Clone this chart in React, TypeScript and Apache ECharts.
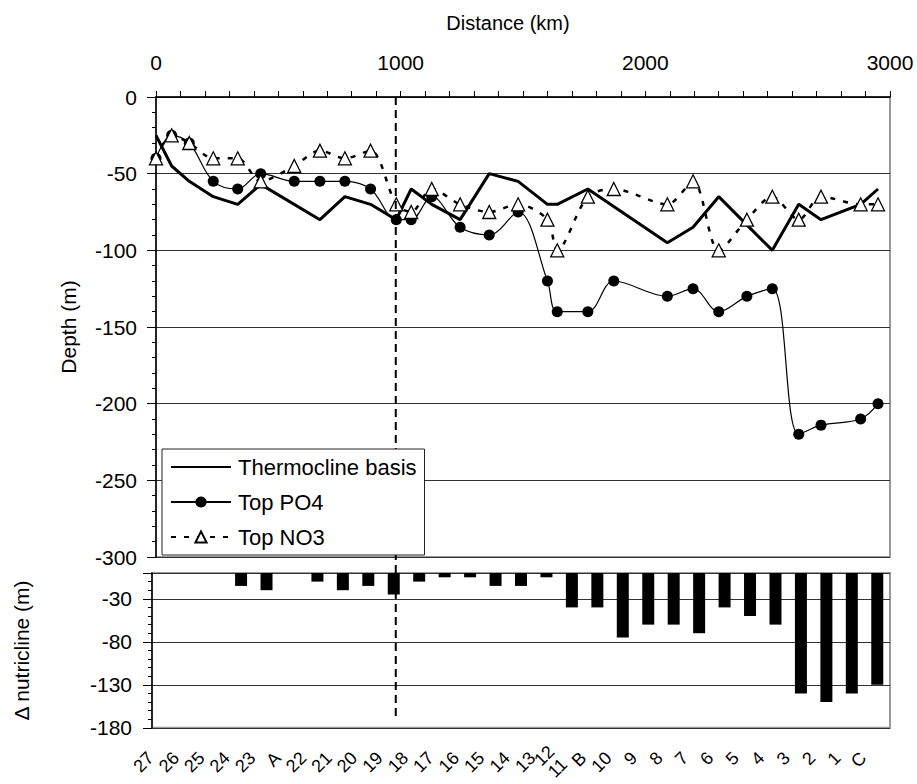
import React, { useEffect, useRef } from 'react';
import * as echarts from 'echarts';

const FONT = '"Liberation Sans", Arial, Helvetica, sans-serif';

// Station distances (km) along the section
const stationDistance = [0, 64, 136, 234, 334, 428, 565, 670, 772, 877, 982, 1043, 1127, 1243, 1362, 1480, 1600, 1640, 1765, 1871, 2090, 2195, 2300, 2415, 2519, 2627, 2718, 2880, 2951];
// Top of PO4 nutricline (m)
const topPO4 = [-40, -25, -30, -55, -60, -50, -55, -55, -55, -60, -80, -80, -65, -85, -90, -75, -120, -140, -140, -120, -130, -125, -140, -130, -125, -220, -214, -210, -200];
// Top of NO3 nutricline (m)
const topNO3 = [-40, -25, -30, -40, -40, -55, -45, -35, -40, -35, -70, -75, -60, -70, -75, -70, -80, -100, -65, -60, -70, -55, -100, -80, -65, -80, -65, -70, -70];
// Thermocline basis
const thermoDistance = [0, 64, 136, 234, 334, 428, 670, 772, 877, 982, 1043, 1127, 1243, 1362, 1480, 1600, 1640, 1765, 2090, 2195, 2300, 2519, 2627, 2718, 2880, 2951];
const thermoDepth = [-25, -45, -55, -65, -70, -57, -80, -65, -70, -80, -60, -70, -80, -50, -55, -70, -70, -60, -95, -85, -65, -100, -70, -80, -70, -60];
// Bottom panel
const stations = ['27', '26', '25', '24', '23', 'A', '22', '21', '20', '19', '18', '17', '16', '15', '14', '13', '12\n11', 'B', '10', '9', '8', '7', '6', '5', '4', '3', '2', '1', 'C'];
const deltaNutricline = [0, 0, 0, -15, -20, 0, -10, -20, -15, -25, -10, -5, -5, -15, -15, -5, -40, -40, -75, -60, -60, -70, -40, -50, -60, -140, -150, -140, -130];
// Front marker (dashed line)
const frontDistance = 980;
const frontDeltaEnd = -170;

export default function App() {
  const ref = useRef<HTMLDivElement>(null);
  useEffect(() => {
    if (!ref.current) return;
    const chart = echarts.init(ref.current, null, { renderer: 'svg' });
    const axisBlack = { color: '#000', width: 1.5 };
    const option: any = {
      animation: false,
      backgroundColor: '#fff',
      textStyle: { fontFamily: FONT, color: '#000' },
      grid: [
        { left: 156, right: 27, top: 97, height: 460, show: true, borderColor: '#999', borderWidth: 2 },
        { left: 152, right: 27, top: 573, height: 159, show: true, borderColor: '#999', borderWidth: 2 },
      ],
      xAxis: [
        {
          type: 'value', gridIndex: 0, position: 'top', min: 0, max: 3000, interval: 1000,
          name: 'Distance (km)', nameLocation: 'middle', nameGap: 64,
          nameTextStyle: { fontSize: 20, color: '#000', fontFamily: FONT, padding: [0, 30, 0, 0] },
          axisLine: { show: true, lineStyle: axisBlack },
          axisTick: { show: true, length: 6, lineStyle: { color: '#000' } },
          minorTick: { show: true, splitNumber: 10, length: 6, lineStyle: { color: '#000' } },
          axisLabel: { fontSize: 21, color: '#000', margin: 24, fontFamily: FONT, formatter: (v: number) => String(v) },
          splitLine: { show: false },
        },
        {
          type: 'category', gridIndex: 1, data: stations,
          axisLine: { show: false }, axisTick: { show: false },
          axisLabel: { rotate: 45, interval: 0, fontSize: 18, lineHeight: 18, margin: 13, padding: [0, 20, 0, 0], color: '#000', fontFamily: FONT },
          splitLine: { show: false },
        },
      ],
      yAxis: [
        {
          type: 'value', gridIndex: 0, min: -300, max: 0, interval: 50,
          name: 'Depth (m)', nameLocation: 'middle', nameGap: 77,
          nameTextStyle: { fontSize: 21, color: '#000', fontFamily: FONT },
          axisLine: { show: true, lineStyle: axisBlack },
          axisTick: { show: true, length: 9, lineStyle: { color: '#000' } },
          minorTick: { show: true, splitNumber: 5, length: 4, lineStyle: { color: '#000' } },
          axisLabel: { fontSize: 21, color: '#000', margin: 19, fontFamily: FONT },
          splitLine: { show: true, lineStyle: { color: '#333', width: 1 } },
        },
        {
          type: 'value', gridIndex: 1, min: -180, max: 0, interval: 50,
          name: 'Δ nutricline (m)', nameLocation: 'middle', nameGap: 120,
          nameTextStyle: { fontSize: 21, color: '#000', fontFamily: FONT },
          axisLine: { show: true, lineStyle: axisBlack },
          axisTick: { show: true, length: 9, lineStyle: { color: '#000' } },
          minorTick: { show: true, splitNumber: 5, length: 4, lineStyle: { color: '#000' } },
          axisLabel: { fontSize: 21, color: '#000', margin: 20, showMaxLabel: false, fontFamily: FONT,
            formatter: (v: number) => (v === 0 ? '' : String(v)) },
          splitLine: { show: true, lineStyle: { color: '#333', width: 1 } },
        },
      ],
      legend: {
        orient: 'vertical', left: 162, top: 449, z: 10,
        data: [
          { name: 'Thermocline basis', itemStyle: { opacity: 0 } },
          { name: 'Top PO4' },
          { name: 'Top NO3' },
        ],
        padding: [7, 8, 7, 8], itemWidth: 60, itemHeight: 14, itemGap: 13,
        backgroundColor: '#fff', borderColor: '#222', borderWidth: 1,
        textStyle: { fontSize: 22, lineHeight: 22, color: '#000', fontFamily: FONT, padding: [0, 0, 0, 2] },
      },
      series: [
        {
          name: 'Thermocline basis', type: 'line', xAxisIndex: 0, yAxisIndex: 0,
          data: thermoDistance.map((d, i) => [d, thermoDepth[i]]),
          symbol: 'none', lineStyle: { color: '#000', width: 3 }, itemStyle: { color: '#000' }, z: 2,
        },
        {
          name: 'Top PO4', type: 'line', xAxisIndex: 0, yAxisIndex: 0,
          data: stationDistance.map((d, i) => [d, topPO4[i]]),
          smooth: 0.35, symbol: 'circle', symbolSize: 11,
          lineStyle: { color: '#000', width: 1.2 }, itemStyle: { color: '#000' }, z: 3,
        },
        {
          name: 'Top NO3', type: 'line', xAxisIndex: 0, yAxisIndex: 0,
          data: stationDistance.map((d, i) => [d, topNO3[i]]),
          smooth: 0.3, symbol: 'triangle', symbolSize: 13,
          lineStyle: { color: '#000', width: 2.5, type: [5, 8] },
          itemStyle: { color: '#fff', borderColor: '#000', borderWidth: 1.3 }, z: 4,
        },
        {
          name: 'Δ nutricline', type: 'bar', xAxisIndex: 1, yAxisIndex: 1,
          data: deltaNutricline, barWidth: 12, itemStyle: { color: '#000' },
        },
      ],
    };
    chart.setOption(option);
    const x = chart.convertToPixel({ xAxisIndex: 0 }, frontDistance) as number;
    const yTop = chart.convertToPixel({ yAxisIndex: 0 }, 0) as number;
    const yBot = chart.convertToPixel({ yAxisIndex: 1 }, frontDeltaEnd) as number;
    chart.setOption({
      graphic: [{
        type: 'line', z: 5, silent: true,
        shape: { x1: x, y1: yTop, x2: x, y2: yBot },
        style: { stroke: '#000', lineWidth: 2, lineDash: [8, 5] },
      }],
    });
    return () => chart.dispose();
  }, []);
  return <div ref={ref} style={{ position: 'fixed', left: 0, top: 0, width: 917, height: 784 }} />;
}
